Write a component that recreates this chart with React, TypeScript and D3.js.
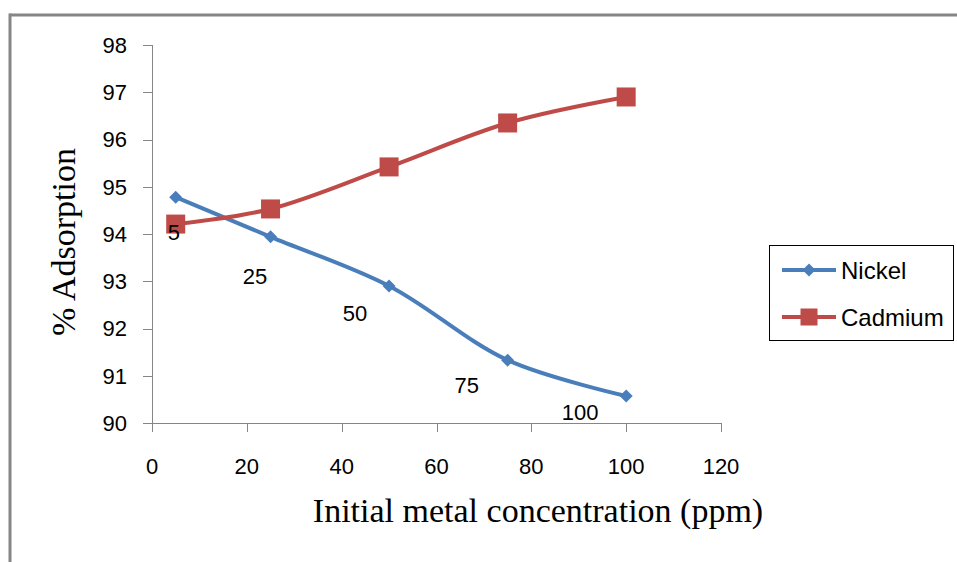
import React from "react";
import * as d3 from "d3";

// Initial metal concentration (ppm)
const concentrations = [5, 25, 50, 75, 100];
// % adsorption per metal
const nickel = [94.78, 93.94, 92.9, 91.33, 90.57];
const cadmium = [94.21, 94.53, 95.42, 96.35, 96.9];
// Data-label anchors (data units) for the concentration labels
const labelX = [4.6, 21.7, 42.8, 66.4, 90.3];
const labelY = [94.04, 93.11, 92.33, 90.8, 90.23];
const labelText = ["5", "25", "50", "75", "100"];

const xTicks = [0, 20, 40, 60, 80, 100, 120];
const yTicks = [90, 91, 92, 93, 94, 95, 96, 97, 98];

const W = 957;
const H = 562;
const plot = { left: 152, right: 721, top: 45, bottom: 423 };

const BLUE = "#4A7EBB";
const RED = "#BE4B48";
const AXIS = "#868686";
const SANS = "'Liberation Sans', Arial, sans-serif";
const SERIF = "'Liberation Serif', 'Times New Roman', serif";

export default function App() {
  const x = d3.scaleLinear().domain([0, 120]).range([plot.left, plot.right]);
  const y = d3.scaleLinear().domain([90, 98]).range([plot.bottom, plot.top]);

  const line = d3
    .line<number>()
    .x((_, i) => x(concentrations[i]))
    .y((d) => y(d))
    .curve(d3.curveCatmullRom.alpha(0.5));

  const diamond = (cx: number, cy: number, r: number) =>
    `M${cx},${cy - r}L${cx + r},${cy}L${cx},${cy + r}L${cx - r},${cy}Z`;

  const sq = 19;

  return (
    <svg
      width={W}
      height={H}
      style={{ position: "absolute", left: 0, top: 0, background: "#fff" }}
    >
      {/* outer frame (top and left edges) */}
      <line x1={9.5} y1={15} x2={W} y2={15} stroke={AXIS} strokeWidth={3} />
      <line x1={10} y1={13.5} x2={10} y2={H} stroke={AXIS} strokeWidth={3} />

      {/* y axis */}
      <line x1={plot.left + 0.5} y1={plot.top} x2={plot.left + 0.5} y2={plot.bottom} stroke={AXIS} />
      {yTicks.map((t) => (
        <g key={"y" + t}>
          <line x1={plot.left - 9} x2={plot.left} y1={Math.round(y(t)) + 0.5} y2={Math.round(y(t)) + 0.5} stroke={AXIS} />
          <text x={127} y={y(t)} dy="0.36em" textAnchor="end" fontFamily={SANS} fontSize={22} fill="#000">
            {t}
          </text>
        </g>
      ))}

      {/* x axis */}
      <line x1={plot.left} y1={plot.bottom + 0.5} x2={plot.right} y2={plot.bottom + 0.5} stroke={AXIS} />
      {xTicks.map((t) => (
        <g key={"x" + t}>
          <line x1={Math.round(x(t)) + 0.5} x2={Math.round(x(t)) + 0.5} y1={plot.bottom} y2={plot.bottom + 9} stroke={AXIS} />
          <text x={x(t)} y={474} textAnchor="middle" fontFamily={SANS} fontSize={22} fill="#000">
            {t}
          </text>
        </g>
      ))}

      {/* axis titles */}
      <text x={538} y={522} textAnchor="middle" fontFamily={SERIF} fontSize={34} fill="#000">
        Initial metal concentration (ppm)
      </text>
      <text
        transform={`translate(75,${(plot.top + plot.bottom) / 2 + 8}) rotate(-90)`}
        textAnchor="middle"
        fontFamily={SERIF}
        fontSize={34}
        fill="#000"
      >
        % Adsorption
      </text>

      {/* series */}
      <path d={line(nickel) || ""} fill="none" stroke={BLUE} strokeWidth={4} />
      {nickel.map((v, i) => (
        <path key={"n" + i} d={diamond(x(concentrations[i]), y(v), 6.5)} fill={BLUE} />
      ))}
      <path d={line(cadmium) || ""} fill="none" stroke={RED} strokeWidth={4} />
      {cadmium.map((v, i) => (
        <rect key={"c" + i} x={x(concentrations[i]) - sq / 2} y={y(v) - sq / 2} width={sq} height={sq} fill={RED} />
      ))}

      {/* data labels */}
      {labelText.map((t, i) => (
        <text key={"l" + t} x={x(labelX[i])} y={y(labelY[i])} dy="0.36em" textAnchor="middle" fontFamily={SANS} fontSize={22} fill="#000">
          {t}
        </text>
      ))}

      {/* legend */}
      <rect x={769.5} y={245.5} width={184} height={95} fill="#fff" stroke="#000" strokeWidth={1} />
      <line x1={782} x2={836} y1={270} y2={270} stroke={BLUE} strokeWidth={4} />
      <path d={diamond(809, 270, 6.5)} fill={BLUE} />
      <text x={841} y={270} dy="0.36em" fontFamily={SANS} fontSize={24} fill="#000">
        Nickel
      </text>
      <line x1={782} x2={836} y1={317} y2={317} stroke={RED} strokeWidth={4} />
      <rect x={809 - 8.5} y={317 - 8.5} width={17} height={17} fill={RED} />
      <text x={841} y={317} dy="0.36em" fontFamily={SANS} fontSize={24} fill="#000">
        Cadmium
      </text>
    </svg>
  );
}
